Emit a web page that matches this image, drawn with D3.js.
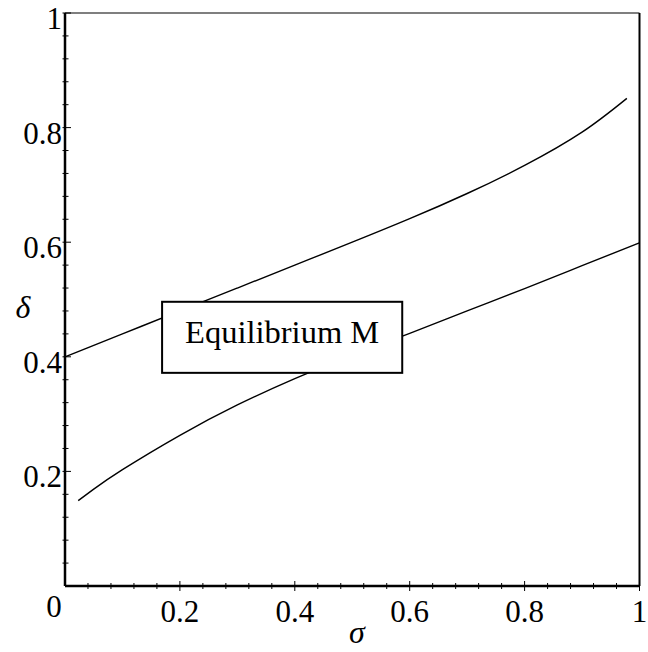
<!DOCTYPE html>
<html>
<head>
<meta charset="utf-8">
<script src="https://cdn.jsdelivr.net/npm/d3@7"></script>
<style>
	body { margin: 0; background: #fff; }
	svg text { font-family: "Liberation Serif", "Times New Roman", serif; fill: #000; }
</style>
</head>
<body>
<svg id="chart" width="648" height="652"></svg>
<script>
// sigma values and the two boundary curves
const upperSigma = [0, 0.1, 0.2, 0.3, 0.4, 0.5, 0.6, 0.7, 0.8, 0.9, 0.978];
const upperDelta = [0.400, 0.440, 0.480, 0.520, 0.560, 0.600, 0.641, 0.685, 0.734, 0.792, 0.851];

const lowerSigma = [0.023, 0.05, 0.1, 0.2, 0.3, 0.4, 0.5, 0.6, 0.7, 0.8, 0.9, 1.0];
const lowerDelta = [0.149, 0.169, 0.203, 0.263, 0.316, 0.362, 0.403, 0.441, 0.480, 0.519, 0.559, 0.599];

const majorTicks = [0.2, 0.4, 0.6, 0.8, 1];
const tickLabels = ['0.2', '0.4', '0.6', '0.8', '1'];

const boxLabel = 'Equilibrium M';
const boxSigma = [0.169, 0.587];
const boxDelta = [0.372, 0.496];

const svg = d3.select('#chart');

const x = d3.scaleLinear().domain([0, 1]).range([65, 639.5]);
const y = d3.scaleLinear().domain([0, 1]).range([586, 13]);

// minor ticks every 0.04
const minorTicks = d3.range(1, 25).map(i => i * 0.04).filter(v => Math.abs(v * 5 - Math.round(v * 5)) > 1e-6);

const line = d3.line()
	.x(d => x(d[0]))
	.y(d => y(d[1]))
	.curve(d3.curveNatural);

// curves
[[upperSigma, upperDelta], [lowerSigma, lowerDelta]].forEach(([s, dl]) => {
	svg.append('path')
		.datum(s.map((v, i) => [v, dl[i]]))
		.attr('d', line)
		.attr('fill', 'none')
		.attr('stroke', '#000')
		.attr('stroke-width', 1.4);
});

// frame: top thin, right medium
svg.append('line')
	.attr('x1', x(0)).attr('x2', x(1))
	.attr('y1', y(1)).attr('y2', y(1))
	.attr('stroke', '#000').attr('stroke-width', 1.2);
svg.append('line')
	.attr('x1', x(1)).attr('x2', x(1))
	.attr('y1', y(1)).attr('y2', y(0))
	.attr('stroke', '#000').attr('stroke-width', 2);

// axes
svg.append('line')
	.attr('x1', x(0)).attr('x2', x(1))
	.attr('y1', y(0)).attr('y2', y(0))
	.attr('stroke', '#000').attr('stroke-width', 2.5);
svg.append('line')
	.attr('x1', x(0)).attr('x2', x(0))
	.attr('y1', y(0)).attr('y2', y(1))
	.attr('stroke', '#000').attr('stroke-width', 2.5);

// x ticks
svg.append('g').selectAll('line')
	.data(minorTicks)
	.enter().append('line')
		.attr('x1', d => x(d)).attr('x2', d => x(d))
		.attr('y1', y(0) - 3).attr('y2', y(0) + 3)
		.attr('stroke', '#000').attr('stroke-width', 1);
svg.append('g').selectAll('line')
	.data(majorTicks)
	.enter().append('line')
		.attr('x1', d => x(d)).attr('x2', d => x(d))
		.attr('y1', y(0) - 5).attr('y2', y(0) + 5)
		.attr('stroke', '#000').attr('stroke-width', 1);

// y ticks
svg.append('g').selectAll('line')
	.data(minorTicks)
	.enter().append('line')
		.attr('y1', d => y(d)).attr('y2', d => y(d))
		.attr('x1', x(0) - 2.5).attr('x2', x(0) + 3.5)
		.attr('stroke', '#000').attr('stroke-width', 1);
svg.append('g').selectAll('line')
	.data(majorTicks)
	.enter().append('line')
		.attr('y1', d => y(d)).attr('y2', d => y(d))
		.attr('x1', x(0) - 2.5).attr('x2', x(0) + 6)
		.attr('stroke', '#000').attr('stroke-width', 1);

// tick labels
svg.append('g').selectAll('text')
	.data(majorTicks)
	.enter().append('text')
		.attr('x', d => x(d))
		.attr('y', y(0) + 36)
		.attr('text-anchor', 'middle')
		.attr('font-size', 31)
		.text((d, i) => tickLabels[i]);
svg.append('g').selectAll('text')
	.data(majorTicks)
	.enter().append('text')
		.attr('x', x(0) - 3)
		.attr('y', d => y(d) + 16)
		.attr('text-anchor', 'end')
		.attr('font-size', 31)
		.text((d, i) => tickLabels[i]);
svg.append('text')
	.attr('x', x(0) - 11)
	.attr('y', y(0) + 31)
	.attr('text-anchor', 'middle')
	.attr('font-size', 31)
	.text('0');

// axis titles
svg.append('text')
	.attr('x', 357).attr('y', 643)
	.attr('text-anchor', 'middle')
	.attr('font-size', 32)
	.attr('font-style', 'italic')
	.text('σ');
svg.append('text')
	.attr('x', 23).attr('y', 318)
	.attr('text-anchor', 'middle')
	.attr('font-size', 32)
	.attr('font-style', 'italic')
	.text('δ');

// annotation box
svg.append('rect')
	.attr('x', x(boxSigma[0]))
	.attr('y', y(boxDelta[1]))
	.attr('width', x(boxSigma[1]) - x(boxSigma[0]))
	.attr('height', y(boxDelta[0]) - y(boxDelta[1]))
	.attr('fill', '#fff')
	.attr('stroke', '#000')
	.attr('stroke-width', 2);
svg.append('text')
	.attr('x', (x(boxSigma[0]) + x(boxSigma[1])) / 2)
	.attr('y', y(boxDelta[0]) - 30)
	.attr('text-anchor', 'middle')
	.attr('font-size', 32.5)
	.text(boxLabel);
</script>
</body>
</html>
